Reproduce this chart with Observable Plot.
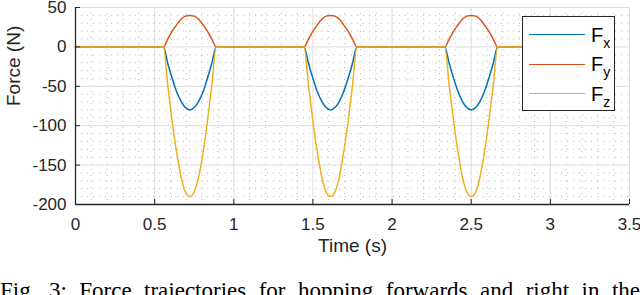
<!DOCTYPE html>
<html><head><meta charset="utf-8">
<script src="https://cdn.jsdelivr.net/npm/d3@7"></script>
<script src="https://cdn.jsdelivr.net/npm/@observablehq/plot@0.6"></script>
<style>
body{margin:0;background:#fff;}
#wrap{position:relative;width:640px;height:295px;overflow:hidden;}
#chart svg{font-family:"Liberation Sans",Arial,sans-serif;}
#legend{position:absolute;left:522px;top:16px;width:93px;height:95px;border:1.3px solid #262626;box-sizing:border-box;background:#fff;font-family:"Liberation Sans",Arial,sans-serif;color:#000;}
.sw{position:absolute;left:6px;width:56px;height:0;border-top:1.6px solid;}
.lab{position:absolute;left:68px;font-size:20px;line-height:20px;white-space:nowrap;}
.lab sub{font-size:14px;vertical-align:-6px;line-height:0;}
#caption{position:absolute;left:0;top:279px;width:640px;font-family:"Liberation Serif","Times New Roman",serif;font-size:23px;line-height:23px;text-align:justify;text-align-last:justify;color:#000;}
</style>
</head><body>
<div id="wrap">
<div id="chart"></div>
<div id="legend"></div>
<div id="caption">Fig. 3: Force trajectories for hopping forwards and right in the</div>
</div>
<script>
// ---- data ----
const time = [0,
  0.556,0.583,0.611,0.639,0.667,0.694,0.722,0.750,0.778,0.806,0.833,0.861,0.889,
  1.444,1.472,1.500,1.528,1.556,1.583,1.611,1.639,1.667,1.694,1.722,1.750,1.778,
  2.333,2.361,2.389,2.417,2.444,2.472,2.500,2.528,2.556,2.583,2.611,2.639,2.667,
  3.0];
const fx = [0,
  0,-21,-40,-57,-69,-77,-80,-77,-69,-57,-40,-21,0,
  0,-21,-40,-57,-69,-77,-80,-77,-69,-57,-40,-21,0,
  0,-21,-40,-57,-69,-77,-80,-77,-69,-57,-40,-21,0,
  0];
const fy = [0,
  0,10,20,28,35,39,40,39,35,28,20,10,0,
  0,10,20,28,35,39,40,39,35,28,20,10,0,
  0,10,20,28,35,39,40,39,35,28,20,10,0,
  0];
const fz = [0,
  0,-49,-95,-134,-165,-184,-190,-184,-165,-134,-95,-49,0,
  0,-49,-95,-134,-165,-184,-190,-184,-165,-134,-95,-49,0,
  0,-49,-95,-134,-165,-184,-190,-184,-165,-134,-95,-49,0,
  0];
const seriesNames = ["x","y","z"];
const seriesColors = ["#0072BD","#D95319","#EDB120"];
const xDomain = [0, 3.5];
const yDomain = [-200, 50];
const xTicks = [0,0.5,1,1.5,2,2.5,3,3.5];
const yTicks = [-200,-150,-100,-50,0,50];
const xMinor = [0.1,0.2,0.3,0.4,0.6,0.7,0.8,0.9,1.1,1.2,1.3,1.4,1.6,1.7,1.8,1.9,2.1,2.2,2.3,2.4,2.6,2.7,2.8,2.9,3.1,3.2,3.3,3.4];
const yMinor = [-190,-180,-170,-160,-140,-130,-120,-110,-90,-80,-70,-60,-40,-30,-20,-10,10,20,30,40];
const xLabel = "Time (s)";
const yLabel = "Force (N)";

const rows = time.map((t,i)=>({t, fx:fx[i], fy:fy[i], fz:fz[i]}));
const keys = ["fx","fy","fz"];
const axisColor = "#262626";

const chart = Plot.plot({
  width: 640, height: 270,
  marginLeft: 75, marginRight: 11, marginTop: 7, marginBottom: 66,
  style: {fontFamily: '"Liberation Sans", Arial, sans-serif', fontSize: "17px", color: axisColor, background: "#fff"},
  x: {domain: xDomain},
  y: {domain: yDomain},
  marks: [
    Plot.gridX(xMinor, {stroke: "#bdbdbd", strokeOpacity: 1, strokeDasharray: "1,5"}),
    Plot.gridY(yMinor, {stroke: "#bdbdbd", strokeOpacity: 1, strokeDasharray: "1,5"}),
    Plot.gridX(xTicks, {stroke: "#dcdcdc", strokeOpacity: 1}),
    Plot.gridY(yTicks, {stroke: "#dcdcdc", strokeOpacity: 1}),
    ...keys.map((k,i)=>Plot.line(rows, {x: "t", y: k, stroke: seriesColors[i], strokeWidth: 1.5, curve: "monotone-x"})),
    Plot.ruleX([xDomain[0]], {stroke: axisColor, strokeWidth: 1.3}),
    Plot.ruleY([yDomain[0]], {stroke: axisColor, strokeWidth: 1.3}),
    Plot.axisX(xTicks, {anchor: "bottom", tickSize: -5, tickPadding: 18, tickFormat: d => String(d), label: null, fontSize: 17, stroke: axisColor}),
    Plot.axisY(yTicks, {anchor: "left", tickSize: -5, tickPadding: 14, tickFormat: d => String(d), label: null, fontSize: 17, stroke: axisColor}),
    Plot.text([xLabel], {frameAnchor: "bottom", dy: 47, fontSize: 19, fill: axisColor}),
    Plot.text([yLabel], {frameAnchor: "left", rotate: -90, dx: -62, fontSize: 19, fill: axisColor})
  ]
});
document.getElementById("chart").appendChild(chart);

// legend
const legend = document.getElementById("legend");
const rowY = [18, 47.5, 77];
seriesNames.forEach((n,i)=>{
  const sw = document.createElement("div");
  sw.className = "sw";
  sw.style.top = (rowY[i]-0.8) + "px";
  sw.style.borderTopColor = seriesColors[i];
  legend.appendChild(sw);
  const lab = document.createElement("div");
  lab.className = "lab";
  lab.style.top = (rowY[i]-10.5) + "px";
  lab.innerHTML = "F<sub>" + n + "</sub>";
  legend.appendChild(lab);
});
</script>
</body></html>
